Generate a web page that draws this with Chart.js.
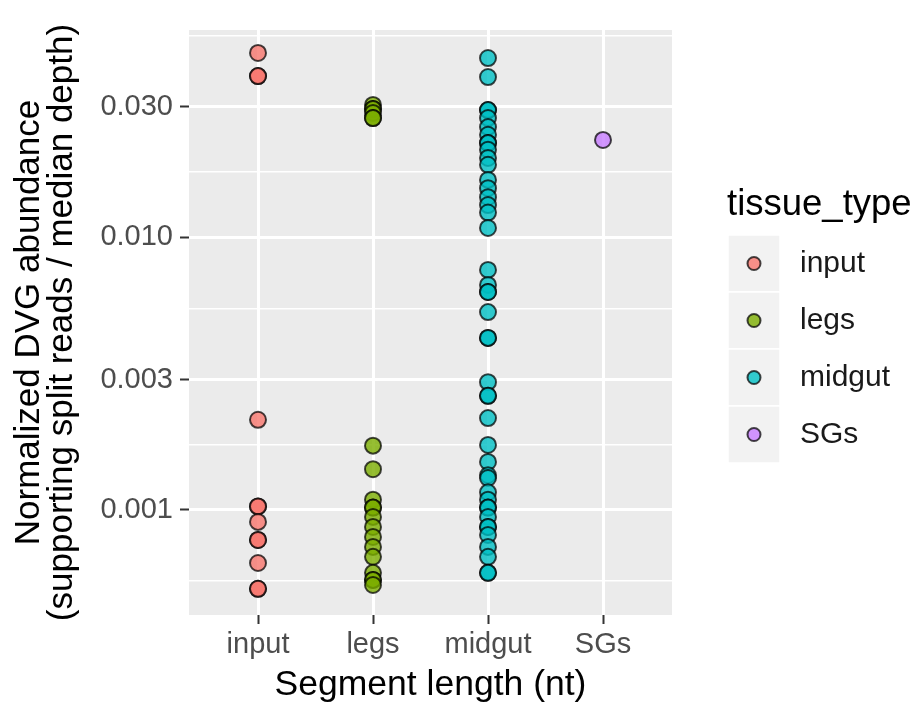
<!DOCTYPE html>
<html><head><meta charset="utf-8">
<script src="https://cdn.jsdelivr.net/npm/chart.js@4/dist/chart.umd.min.js"></script>
<style>html,body{margin:0;padding:0;background:#fff}#wrap{width:914px;height:707px}</style>
</head><body><div id="wrap"><canvas id="c" width="914" height="707"></canvas></div>
<script>
const categories = ['input', 'legs', 'midgut', 'SGs'];
const seriesColors = ['#F8766D', '#7CAE00', '#00BFC4', '#C77CFF'];
const inputValues = [0.0473, 0.0389, 0.0389, 0.00214, 0.00103, 0.00103, 0.000904, 0.000776, 0.000776, 0.000639, 0.000514, 0.000514];
const legsValues = [0.0305, 0.0295, 0.0295, 0.0285, 0.0273, 0.0273, 0.00172, 0.00141, 0.00109, 0.00102, 0.00102, 0.000943, 0.000866, 0.000796, 0.000732, 0.000673, 0.000588, 0.000554, 0.000554, 0.000531];
const midgutValues = [0.0453, 0.0386, 0.0292, 0.0292, 0.0273, 0.0253, 0.0237, 0.0221, 0.0221, 0.0209, 0.0195, 0.0184, 0.0162, 0.0151, 0.0140, 0.0131, 0.0123, 0.0108, 0.00758, 0.00668, 0.00629, 0.00629, 0.00531, 0.00427, 0.00427, 0.00294, 0.00262, 0.00262, 0.00217, 0.00173, 0.00150, 0.00134, 0.00131, 0.00116, 0.00109, 0.00102, 0.00102, 0.000943, 0.000866, 0.000866, 0.000810, 0.000732, 0.000673, 0.000588, 0.000588];
const sgsValues = [0.0227];
const yMajorTicks = [0.001, 0.003, 0.01, 0.03];
const yTickLabels = ['0.001', '0.003', '0.010', '0.030'];
const yMinorTicks = [0.000548, 0.00173, 0.00548, 0.0173, 0.0548];
const legendTitle = 'tissue_type';
const xTitle = 'Segment length (nt)';
const yTitle = ['Normalized DVG abundance', '(supporting split reads / median depth)'];

const seriesValues = [inputValues, legsValues, midgutValues, sgsValues];
function alpha(hex, a) {
  const n = parseInt(hex.slice(1), 16);
  return `rgba(${(n >> 16) & 255},${(n >> 8) & 255},${n & 255},${a})`;
}
const FONT = 'Liberation Sans';

const datasets = categories.map((c, i) => ({
  label: c,
  data: seriesValues[i].map(v => ({ x: i + 1, y: v })),
  backgroundColor: alpha(seriesColors[i], 0.8),
  borderColor: 'rgba(0,0,0,0.72)',
  borderWidth: 2,
  pointRadius: 8,
  pointHoverRadius: 8
}));

const bgPlugin = {
  id: 'bg',
  beforeDraw(chart) {
    const { ctx, chartArea: a } = chart;
    ctx.save();
    ctx.fillStyle = '#fff';
    ctx.fillRect(0, 0, chart.width, chart.height);
    ctx.fillStyle = '#EBEBEB';
    ctx.fillRect(a.left, a.top, a.right - a.left, a.bottom - a.top);
    ctx.restore();
  }
};

const legendPlugin = {
  id: 'ggLegend',
  afterDraw(chart) {
    const ctx = chart.ctx;
    ctx.save();
    ctx.fillStyle = '#000';
    ctx.font = `36.5px "${FONT}"`;
    ctx.textAlign = 'left';
    ctx.textBaseline = 'alphabetic';
    ctx.fillText(legendTitle, 727, 215);
    const keyX = 728, keyW = 52, keyTop = 235, keyH = 57;
    chart.data.datasets.forEach((ds, i) => {
      const y0 = keyTop + i * keyH;
      ctx.fillStyle = '#F2F2F2';
      ctx.fillRect(keyX, y0, keyW, keyH);
      ctx.strokeStyle = '#fff';
      ctx.lineWidth = 1.5;
      ctx.strokeRect(keyX, y0, keyW, keyH);
      ctx.beginPath();
      ctx.arc(keyX + keyW / 2, y0 + keyH / 2, 6.5, 0, Math.PI * 2);
      ctx.fillStyle = ds.backgroundColor;
      ctx.fill();
      ctx.lineWidth = 2;
      ctx.strokeStyle = ds.borderColor;
      ctx.stroke();
      ctx.fillStyle = '#1A1A1A';
      ctx.font = `30px "${FONT}"`;
      ctx.textBaseline = 'middle';
      ctx.fillText(ds.label, 800, y0 + keyH / 2);
      ctx.textBaseline = 'alphabetic';
    });
    ctx.restore();
  }
};

const isMajor = v => yMajorTicks.some(m => Math.abs(m - v) / m < 1e-6);

new Chart(document.getElementById('c'), {
  type: 'scatter',
  data: { datasets },
  plugins: [bgPlugin, legendPlugin],
  options: {
    responsive: false,
    animation: false,
    devicePixelRatio: 1,
    layout: { padding: { top: 30, right: 242, left: 0, bottom: 0 } },
    plugins: { legend: { display: false }, tooltip: { enabled: false } },
    scales: {
      x: {
        type: 'linear', min: 0.4, max: 4.6,
        afterBuildTicks: s => { s.ticks = categories.map((c, i) => ({ value: i + 1 })); },
        afterFit: s => { s.height = 92; },
        ticks: {
          callback: v => categories[Math.round(v) - 1] ?? '',
          color: '#4D4D4D', font: { family: FONT, size: 29 }, padding: 4,
          maxRotation: 0, autoSkip: false
        },
        grid: { color: '#fff', lineWidth: 3, tickColor: '#333', tickWidth: 2, tickLength: 9 },
        border: { display: false },
        title: {
          display: true, text: xTitle, color: '#000',
          font: { family: FONT, size: 35.5, lineHeight: 1 }, padding: { top: 0, bottom: 4 }
        }
      },
      y: {
        type: 'logarithmic', min: 0.000412, max: 0.0574,
        afterBuildTicks: s => {
          s.ticks = [...yMinorTicks, ...yMajorTicks].sort((a, b) => a - b).map(v => ({ value: v }));
        },
        afterFit: s => { s.width = 189; },
        ticks: {
          callback: v => { const k = yMajorTicks.findIndex(m => Math.abs(m - v) / m < 1e-6); return k >= 0 ? yTickLabels[k] : ''; },
          color: '#4D4D4D', font: { family: FONT, size: 29 }, padding: 7, autoSkip: false
        },
        grid: {
          color: '#fff',
          lineWidth: c => (c.tick && isMajor(c.tick.value)) ? 3 : 1.5,
          tickColor: c => (c.tick && isMajor(c.tick.value)) ? '#333' : 'rgba(0,0,0,0)',
          tickWidth: 2, tickLength: 9
        },
        border: { display: false },
        title: {
          display: true, text: yTitle, color: '#000',
          font: { family: FONT, size: 35, lineHeight: '33px' }, padding: { top: 13, bottom: 0 }
        }
      }
    }
  }
});
</script></body></html>
